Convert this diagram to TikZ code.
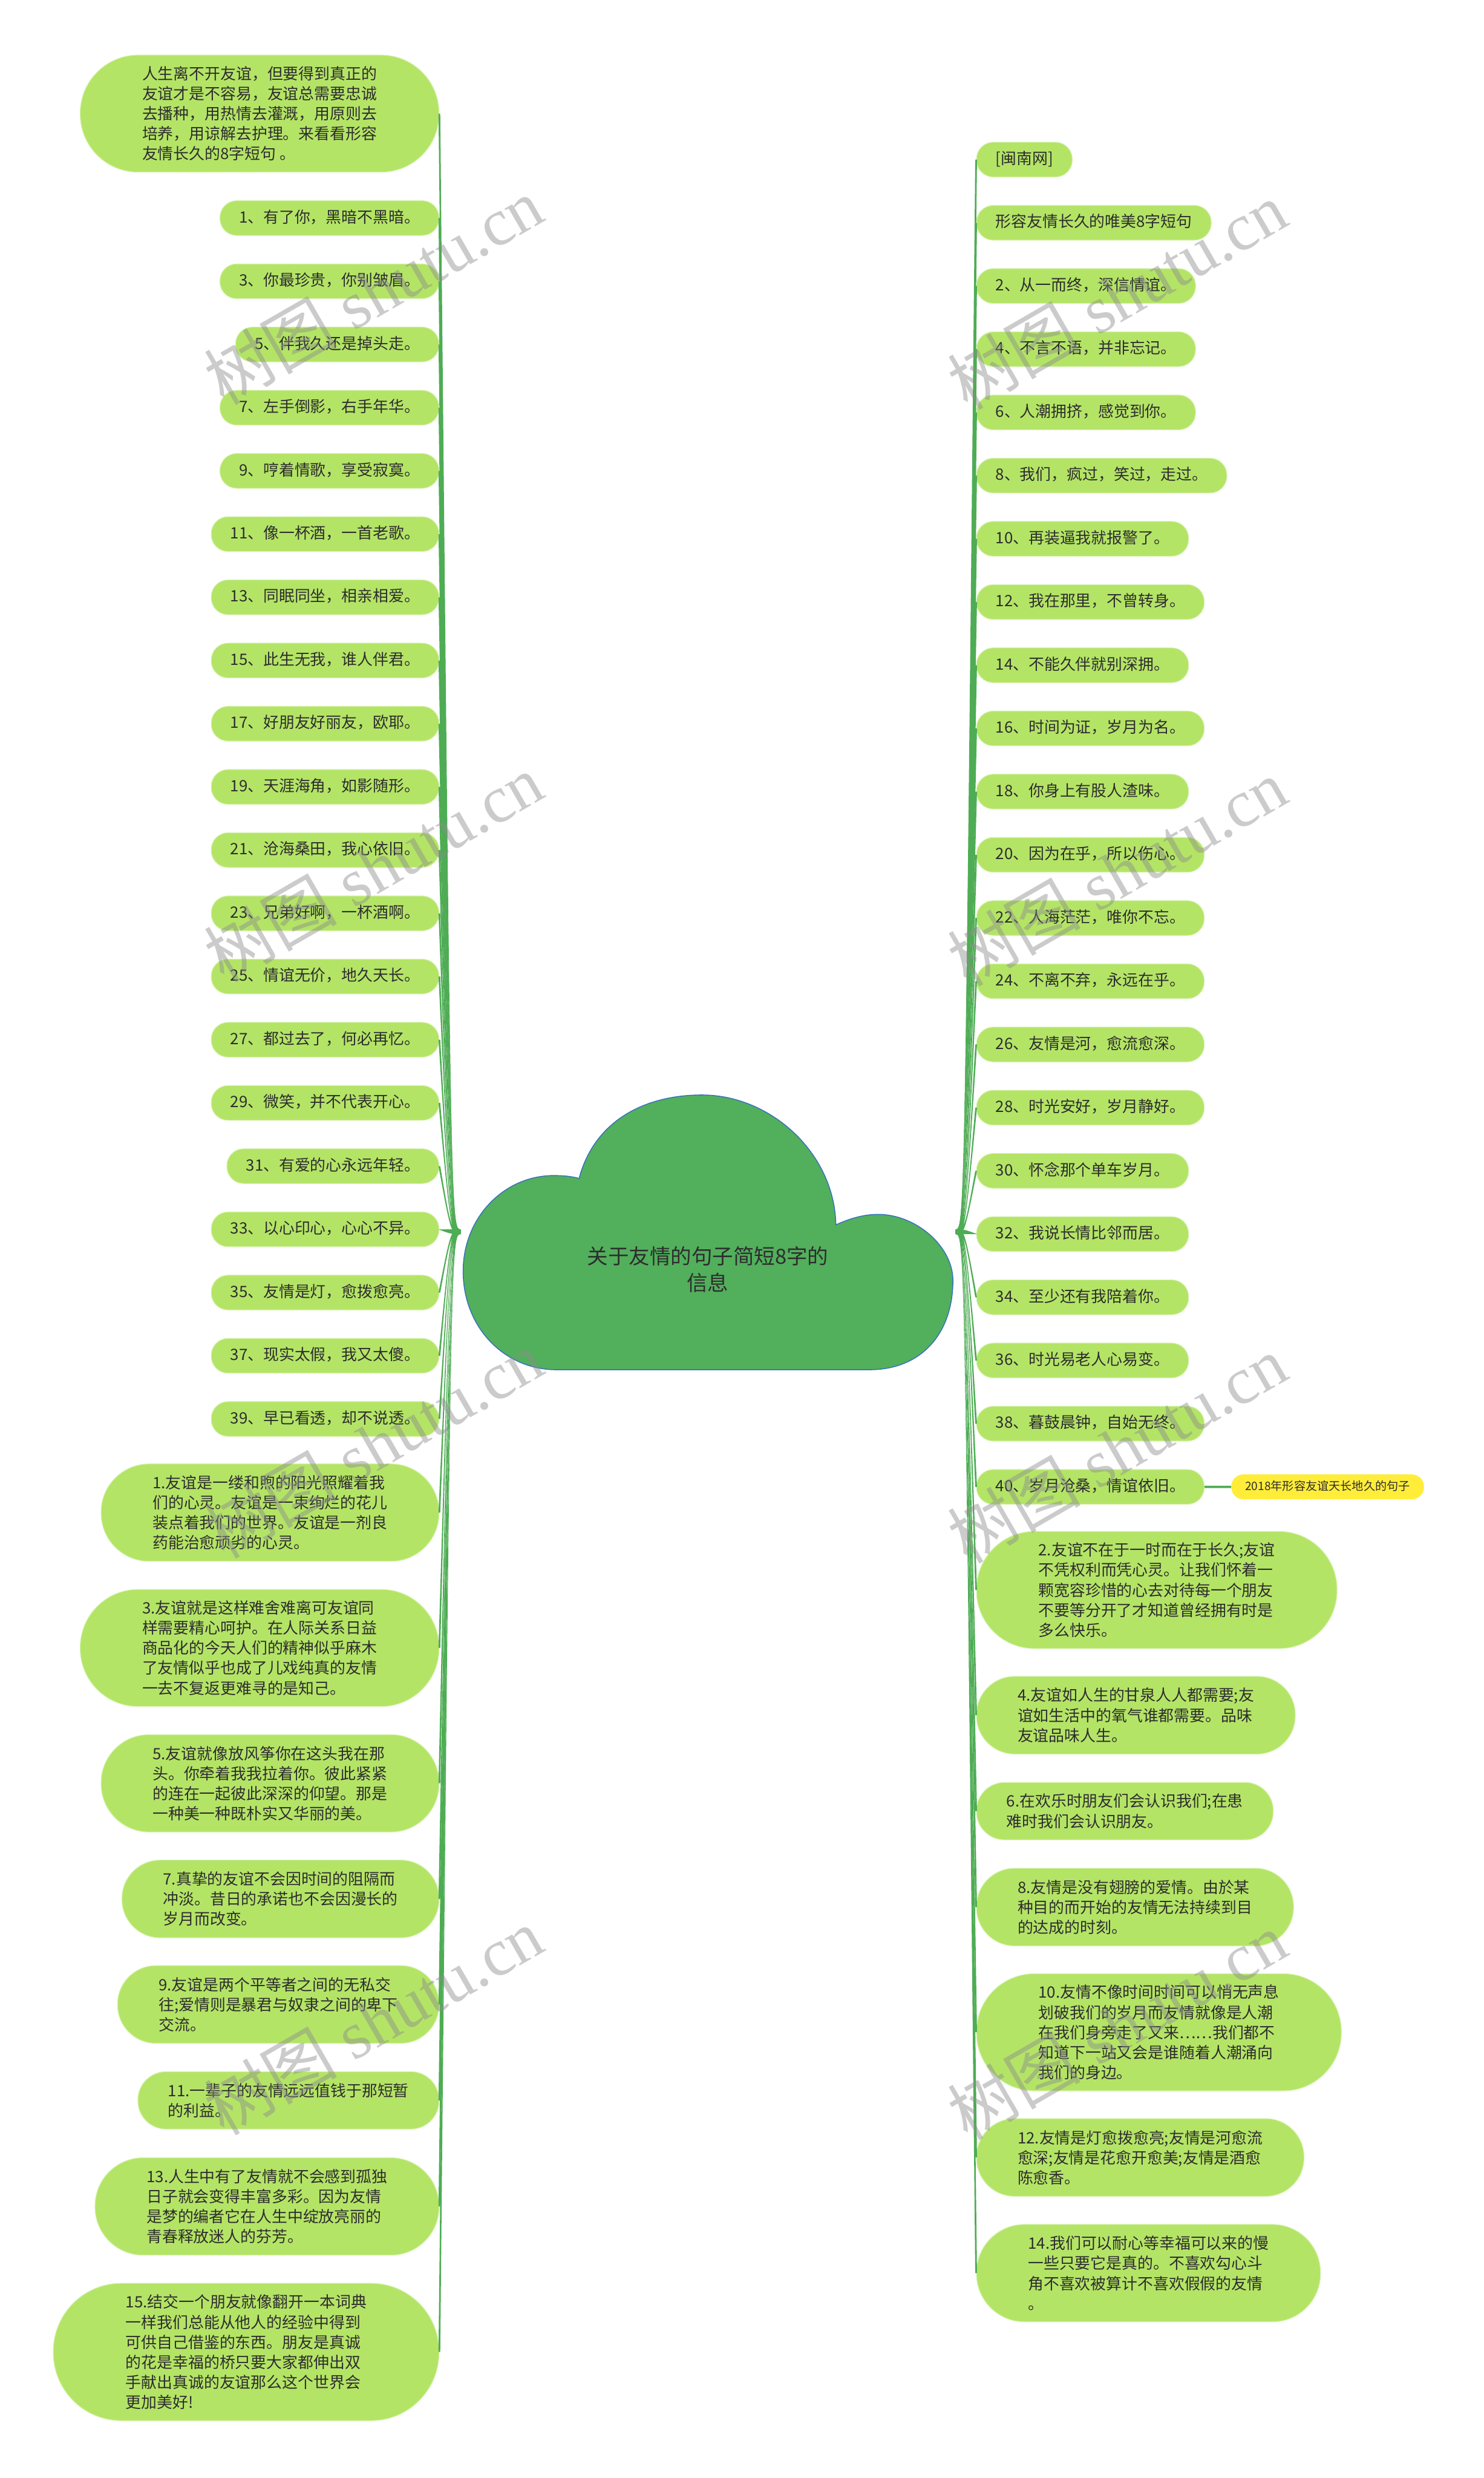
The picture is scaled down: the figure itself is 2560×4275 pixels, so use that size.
\documentclass[tikz,border=0pt]{standalone}
\usepackage{fontspec}
\setmainfont{Noto Sans CJK SC}
\newfontfamily\wmserif{Liberation Serif}
\usetikzlibrary{calc}
\definecolor{leaf}{RGB}{180,228,102}
\definecolor{leafline}{RGB}{212,242,172}
\definecolor{conncol}{RGB}{78,172,84}
\definecolor{cloudfill}{RGB}{82,175,92}
\definecolor{cloudline}{RGB}{52,112,190}
\definecolor{txtcol}{RGB}{45,45,45}
\definecolor{yelcol}{RGB}{255,237,58}
\definecolor{wmcol}{RGB}{140,140,140}
\newcommand\linkL[3]{\fill[conncol] ($(hubL)+(0,-4)$) .. controls ($(#1.east |- hubL)+(20,-4)$) .. ($(#1.east)+(#2,0)$) -- ($(#1.east)+(#3,0)$) .. controls ($(#1.east |- hubL)+(20,4)$) .. ($(hubL)+(0,4)$) -- cycle;}
\newcommand\linkR[3]{\fill[conncol] ($(hubR)+(0,-4)$) .. controls ($(#1.west |- hubR)+(-20,-4)$) .. ($(#1.west)+(#2,0)$) -- ($(#1.west)+(#3,0)$) .. controls ($(#1.west |- hubR)+(-20,4)$) .. ($(hubR)+(0,4)$) -- cycle;}
\begin{document}
\begin{tikzpicture}[x=1pt,y=-1pt,
  leafbox/.style={rectangle, fill=leaf, draw=leafline, line width=1.2pt, text=txtcol},
  shortL/.style={leafbox, anchor=east, font=\fontsize{27}{34}\selectfont, minimum height=60pt, inner xsep=33pt, inner ysep=0pt, text height=21pt, text depth=5pt, rounded corners=29pt},
  shortR/.style={shortL, anchor=west},
  longL/.style={leafbox, anchor=east, align=left, font=\fontsize{27}{34.5}\selectfont, inner ysep=8pt},
  longR/.style={longL, anchor=west},
  two/.style={minimum height=99pt, inner xsep=52pt, rounded corners=48.5pt},
  three/.style={minimum height=134pt, inner xsep=71pt, rounded corners=66pt},
  four/.style={minimum height=168pt, inner xsep=89pt, rounded corners=83pt},
  five/.style={minimum height=202pt, inner xsep=107pt, rounded corners=100pt},
  six/.style={minimum height=237pt, inner xsep=125pt, rounded corners=117.5pt},
  yelbox/.style={rectangle, fill=yelcol, draw=none, text=txtcol, anchor=west, font=\fontsize{20}{24}\selectfont, minimum height=43pt, inner xsep=24pt, inner ysep=0pt, text height=16pt, text depth=4pt, rounded corners=21pt},
  wmark/.style={rotate=30, text=wmcol, opacity=0.45, font=\fontsize{115}{115}\selectfont}
]
\useasboundingbox (0,0) rectangle (2560,4275);
\fill[white] (0,0) rectangle (2560,4275);

% central cloud
\filldraw[fill=cloudfill, draw=cloudline, line width=1.5pt]
  (960,2363) -- (1500,2363) .. controls (1590,2363) and (1644,2300) .. (1644,2209)
  .. controls (1644,2150) and (1580,2095) .. (1515,2095)
  .. controls (1485,2095) and (1460,2105) .. (1442,2113)
  .. controls (1440,1990) and (1330,1889) .. (1211,1889)
  .. controls (1110,1889) and (1025,1935) .. (999,2033)
  .. controls (985,2029) and (970,2028) .. (955,2028)
  .. controls (870,2028) and (799,2100) .. (799,2193)
  .. controls (799,2290) and (870,2363) .. (960,2363) -- cycle;
\node[font=\fontsize{36}{46}\selectfont, text=txtcol, align=center] (center) at (1221,2190) {关于友情的句子简短8字的\\信息};
\coordinate (hubL) at (795,2125);
\coordinate (hubR) at (1648,2125);

% left short items
\foreach \lbl [count=\i from 0] in {1、有了你，黑暗不黑暗。, 3、你最珍贵，你别皱眉。, 5、伴我久还是掉头走。, 7、左手倒影，右手年华。, 9、哼着情歌，享受寂寞。, 11、像一杯酒，一首老歌。, 13、同眠同坐，相亲相爱。, 15、此生无我，谁人伴君。, 17、好朋友好丽友，欧耶。, 19、天涯海角，如影随形。, 21、沧海桑田，我心依旧。, 23、兄弟好啊，一杯酒啊。, 25、情谊无价，地久天长。, 27、都过去了，何必再忆。, 29、微笑，并不代表开心。, 31、有爱的心永远年轻。, 33、以心印心，心心不异。, 35、友情是灯，愈拨愈亮。, 37、现实太假，我又太傻。, 39、早已看透，却不说透。}{
  \pgfmathsetmacro\yy{376.2+109.04*\i}
  \node[shortL] (L\i) at (758,\yy) {\lbl};
  \pgfmathsetmacro\sa{\yy<2125?1.5:-1.5}
  \pgfmathsetmacro\sb{-1*(\sa)}
  \linkL{L\i}{\sa}{\sb}
}

% right short items
\foreach \lbl [count=\i from 0] in {[闽南网], 形容友情长久的唯美8字短句, 2、从一而终，深信情谊。, 4、不言不语，并非忘记。, 6、人潮拥挤，感觉到你。, 8、我们，疯过，笑过，走过。, 10、再装逼我就报警了。, 12、我在那里，不曾转身。, 14、不能久伴就别深拥。, 16、时间为证，岁月为名。, 18、你身上有股人渣味。, 20、因为在乎，所以伤心。, 22、人海茫茫，唯你不忘。, 24、不离不弃，永远在乎。, 26、友情是河，愈流愈深。, 28、时光安好，岁月静好。, 30、怀念那个单车岁月。, 32、我说长情比邻而居。, 34、至少还有我陪着你。, 36、时光易老人心易变。, 38、暮鼓晨钟，自始无终。, 40、岁月沧桑，情谊依旧。}{
  \pgfmathsetmacro\yy{275.3+109.04*\i}
  \node[shortR] (R\i) at (1684,\yy) {\lbl};
  \pgfmathsetmacro\sa{\yy<2125?-1.5:1.5}
  \pgfmathsetmacro\sb{-1*(\sa)}
  \linkR{R\i}{\sa}{\sb}
}

% yellow label on item 40
\node[yelbox] (Y) at (2124,2565.1) {2018年形容友谊天长地久的句子};
\draw[conncol, line width=4pt] (R21.east) -- (Y.west);

% left long items
\node[longL, five] (A0) at (758,196) {人生离不开友谊，但要得到真正的\\友谊才是不容易，友谊总需要忠诚\\去播种，用热情去灌溉，用原则去\\培养，用谅解去护理。来看看形容\\友情长久的8字短句 。};
\node[longL, four] (A1) at (758,2609.5) {1.友谊是一缕和煦的阳光照耀着我\\们的心灵。友谊是一束绚烂的花儿\\装点着我们的世界。友谊是一剂良\\药能治愈顽劣的心灵。};
\node[longL, five] (A3) at (758,2843) {3.友谊就是这样难舍难离可友谊同\\样需要精心呵护。在人际关系日益\\商品化的今天人们的精神似乎麻木\\了友情似乎也成了儿戏纯真的友情\\一去不复返更难寻的是知己。};
\node[longL, four] (A5) at (758,3076.5) {5.友谊就像放风筝你在这头我在那\\头。你牵着我我拉着你。彼此紧紧\\的连在一起彼此深深的仰望。那是\\一种美一种既朴实又华丽的美。};
\node[longL, three] (A7) at (758,3276) {7.真挚的友谊不会因时间的阻隔而\\冲淡。昔日的承诺也不会因漫长的\\岁月而改变。};
\node[longL, three] (A9) at (758,3458) {9.友谊是两个平等者之间的无私交\\往;爱情则是暴君与奴隶之间的卑下\\交流。};
\node[longL, two] (A11) at (758,3623.5) {11.一辈子的友情远远值钱于那短暂\\的利益。};
\node[longL, four] (A13) at (758,3806.5) {13.人生中有了友情就不会感到孤独\\日子就会变得丰富多彩。因为友情\\是梦的编者它在人生中绽放亮丽的\\青春释放迷人的芬芳。};
\node[longL, six] (A15) at (758,4057.5) {15.结交一个朋友就像翻开一本词典\\一样我们总能从他人的经验中得到\\可供自己借鉴的东西。朋友是真诚\\的花是幸福的桥只要大家都伸出双\\手献出真诚的友谊那么这个世界会\\更加美好!};
\linkL{A0}{1.5}{-1.5}
\foreach \n in {A1,A3,A5,A7,A9,A11,A13,A15}{\linkL{\n}{-1.5}{1.5}}

% right long items
\node[longR, five] (B2) at (1684,2743) {2.友谊不在于一时而在于长久;友谊\\不凭权利而凭心灵。让我们怀着一\\颗宽容珍惜的心去对待每一个朋友\\不要等分开了才知道曾经拥有时是\\多么快乐。};
\node[longR, three] (B4) at (1684,2959) {4.友谊如人生的甘泉人人都需要;友\\谊如生活中的氧气谁都需要。品味\\友谊品味人生。};
\node[longR, two] (B6) at (1684,3124.5) {6.在欢乐时朋友们会认识我们;在患\\难时我们会认识朋友。};
\node[longR, three] (B8) at (1684,3290) {8.友情是没有翅膀的爱情。由於某\\种目的而开始的友情无法持续到目\\的达成的时刻。};
\node[longR, five] (B10) at (1684,3506) {10.友情不像时间时间可以悄无声息\\划破我们的岁月而友情就像是人潮\\在我们身旁走了又来……我们都不\\知道下一站又会是谁随着人潮涌向\\我们的身边。};
\node[longR, three] (B12) at (1684,3722) {12.友情是灯愈拨愈亮;友情是河愈流\\愈深;友情是花愈开愈美;友情是酒愈\\陈愈香。};
\node[longR, four] (B14) at (1684,3921.5) {14.我们可以耐心等幸福可以来的慢\\一些只要它是真的。不喜欢勾心斗\\角不喜欢被算计不喜欢假假的友情\\。};
\foreach \n in {B2,B4,B6,B8,B10,B12,B14}{\linkR{\n}{1.5}{-1.5}}

% watermarks
\foreach \x/\y [count=\k] in {644/502,1927/510,644/1497,1927/1505,644/2492,1927/2500,644/3487,1927/3495}{
  \node[wmark] (wm\k) at (\x,\y) {树图{\wmserif\ shutu.cn}};
}
\end{tikzpicture}
\end{document}
